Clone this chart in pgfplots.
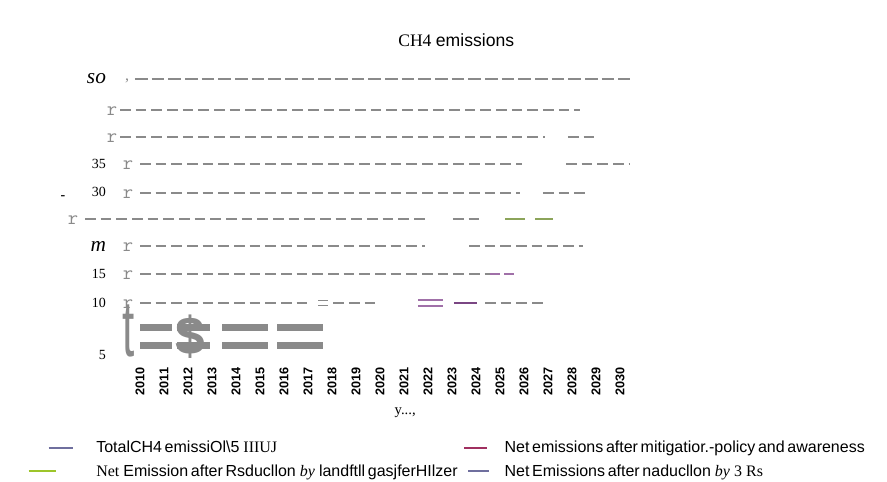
\documentclass[border=0pt]{standalone}
\usepackage{pgfplots}
\pgfplotsset{compat=1.18}
\usepackage{fontspec}
\setmainfont{Liberation Serif}
\setsansfont{Liberation Sans}
\newfontfamily\narrow[WordSpace=0.6]{Liberation Sans}
\definecolor{gridgray}{HTML}{8A8A8A}
\definecolor{slate}{HTML}{6F6F9E}
\definecolor{maroon}{HTML}{A03060}
\definecolor{lgreen}{HTML}{9DC52A}
\definecolor{olive}{HTML}{8CA45A}
\definecolor{lpurple}{HTML}{A070A8}
\definecolor{dpurple}{HTML}{7A4683}
\begin{document}
\begin{tikzpicture}
\path[use as bounding box] (0,0) rectangle (665.25pt,-360.75pt);
\begin{axis}[
  at={(84pt,-269.25pt)}, anchor=south west,
  scale only axis, width=399pt, height=218.4pt,
  xmin=2008.8333, xmax=2031, ymin=0, ymax=52,
  clip=false,
  axis line style={draw=none},
  major tick length=0pt,
  xtick={2010,2011,2012,2013,2014,2015,2016,2017,2018,2019,2020,2021,2022,2023,2024,2025,2026,2027,2028,2029,2030},
  xticklabels={2010,2011,2012,2013,2014,2015,2016,2017,2018,2019,2020,2021,2022,2023,2024,2025,2026,2027,2028,2029,2030},
  xticklabel style={rotate=90, anchor=east, xshift=-3pt, font=\sffamily\bfseries\fontsize{9.5}{10}\selectfont},
  ytick={0.7,10,15.18,20.18,29.64,34.82,50},
  yticklabels={5,10,15,{\fontsize{16}{16}\selectfont\textit{m}},{\raisebox{-2pt}{\textbf{-}}\hspace{20pt}30},35,{\fontsize{16}{16}\selectfont\textit{so}}},
  yticklabel style={anchor=east, xshift=-1pt, font=\fontsize{10.5}{11}\selectfont},
  every axis title shift=0pt,
  title={CH4 \textsf{emissions}},
  title style={at={(axis description cs:0.647,1.0955)}, anchor=center, font=\fontsize{13.2}{14}\selectfont},
  xlabel={y...,},
  xlabel style={at={(axis description cs:0.551,-0.183)}, anchor=center, font=\fontsize{11}{12}\selectfont},
  legend columns=2,
  legend cell align=left,
  legend style={at={(axis description cs:-0.1665,-0.262)}, anchor=north west, draw=none, fill=none,
    font=\fontsize{12}{13}\selectfont, row sep=3.5pt,
    /tikz/every even column/.append style={column sep=2pt}},
  gd/.style={color=gridgray, line width=1.1pt, dash pattern=on 8pt off 3.75pt, forget plot},
]
% legend images
\addlegendimage{legend image code/.code={\draw[slate, line width=1.5pt] (4.5pt,0pt) -- (23pt,0pt); \path (38pt,0pt);}}
\addlegendentry{{\narrow TotalCH4 emissiOl\textbackslash 5} {\rmfamily IIIUJ}}
\addlegendimage{legend image code/.code={\draw[maroon, line width=1.5pt] (-14pt,0pt) -- (3pt,0pt); \path (14.25pt,0pt);}}
\addlegendentry{{\narrow Net emissions after mitigatior.-policy and awareness}}
\addlegendimage{legend image code/.code={\draw[lgreen, line width=1.5pt] (-10.5pt,0pt) -- (10pt,0pt); \path (38pt,0pt);}}
\addlegendentry{{\rmfamily Net} {\narrow Emission after Rsducllon} {\rmfamily\textit{by}} {\narrow landftll gasjferHIlzer}}
\addlegendimage{legend image code/.code={\draw[slate, line width=1.5pt] (-11pt,0pt) -- (4.5pt,0pt); \path (14.25pt,0pt);}}
\addlegendentry{{\narrow Net Emissions after naducllon} {\rmfamily\textit{by} 3 Rs}}

% dashed gridline segments
\addplot[gd, line width=1.5pt, dash pattern=on 9.5pt off 3pt] coordinates {(2009.79,50) (2030.42,50)};
\addplot[gd] coordinates {(2009.17,44.46) (2028.33,44.46)};
\addplot[gd] coordinates {(2009.17,39.64) (2026.875,39.64)};
\addplot[gd] coordinates {(2027.83,39.64) (2029.08,39.64)};
\addplot[gd] coordinates {(2010,34.82) (2025.92,34.82)};
\addplot[gd] coordinates {(2027.75,34.82) (2030.42,34.82)};
\addplot[gd] coordinates {(2010,29.64) (2025.83,29.64)};
\addplot[gd] coordinates {(2026.79,29.64) (2028.63,29.64)};
\addplot[gd] coordinates {(2007.71,25) (2022.0,25)};
\addplot[gd] coordinates {(2023.04,25) (2024.25,25)};
\addplot[gd] coordinates {(2010,20.18) (2021.875,20.18)};
\addplot[gd] coordinates {(2023.71,20.18) (2028.46,20.18)};
\addplot[gd] coordinates {(2010,15.18) (2024.58,15.18)};
\addplot[gd] coordinates {(2010,10) (2017.15,10)};
\addplot[gd] coordinates {(2018.05,10) (2019.79,10)};
\addplot[gd] coordinates {(2024.375,10) (2026.875,10)};
% small gray equals
\addplot[color=gridgray, line width=0.8pt, forget plot] coordinates {(2017.42,10.4) (2017.85,10.4)};
\addplot[color=gridgray, line width=0.8pt, forget plot] coordinates {(2017.42,9.6) (2017.85,9.6)};
% coloured segments
\addplot[color=olive, line width=1.1pt, forget plot] coordinates {(2025.21,25) (2026.04,25)};
\addplot[color=olive, line width=1.1pt, forget plot] coordinates {(2026.46,25) (2027.21,25)};
\addplot[color=lpurple, line width=1.1pt, forget plot] coordinates {(2024.58,15.18) (2025.0,15.18)};
\addplot[color=lpurple, line width=1.1pt, forget plot] coordinates {(2025.17,15.18) (2025.58,15.18)};
\addplot[color=lpurple, line width=1.1pt, forget plot] coordinates {(2021.58,10.54) (2022.625,10.54)};
\addplot[color=lpurple, line width=1.1pt, forget plot] coordinates {(2021.58,9.46) (2022.625,9.46)};
\addplot[color=dpurple, line width=1.6pt, forget plot] coordinates {(2023.08,10) (2024.04,10)};
% thick gray bars
\addplot[color=gridgray, line width=5.25pt, forget plot] coordinates {(2010,5.71) (2011.33,5.71)};
\addplot[color=gridgray, line width=5.25pt, forget plot] coordinates {(2011.54,5.71) (2012.92,5.71)};
\addplot[color=gridgray, line width=5.25pt, forget plot] coordinates {(2013.42,5.71) (2015.33,5.71)};
\addplot[color=gridgray, line width=5.25pt, forget plot] coordinates {(2015.71,5.71) (2017.625,5.71)};
\addplot[color=gridgray, line width=5.25pt, forget plot] coordinates {(2010,2.5) (2011.33,2.5)};
\addplot[color=gridgray, line width=5.25pt, forget plot] coordinates {(2011.54,2.5) (2012.92,2.5)};
\addplot[color=gridgray, line width=5.25pt, forget plot] coordinates {(2013.42,2.5) (2015.33,2.5)};
\addplot[color=gridgray, line width=5.25pt, forget plot] coordinates {(2015.71,2.5) (2017.625,2.5)};

% gray glyphs at gridline starts
\begin{scope}[every node/.style={text=gridgray, inner sep=0pt, font=\ttfamily\fontsize{15}{15}\selectfont}]
\node at (axis cs:2008.833,44.2) {r};
\node at (axis cs:2008.833,39.4) {r};
\node at (axis cs:2009.5,34.6) {r};
\node at (axis cs:2009.5,29.4) {r};
\node at (axis cs:2007.21,24.8) {r};
\node at (axis cs:2009.5,19.95) {r};
\node at (axis cs:2009.5,14.95) {r};
\node at (axis cs:2009.5,9.8) {r};
\node[font=\fontsize{12}{12}\selectfont] at (axis cs:2009.46,49.6) {,};
\end{scope}
\node[text=gridgray, inner sep=0pt] at (axis cs:2009.54,5.0) {\scalebox{0.55}[1]{\sffamily\fontsize{60}{60}\selectfont t}};
\node[text=gridgray, inner sep=0pt] at (axis cs:2012.08,3.9) {\sffamily\bfseries\fontsize{40}{40}\selectfont \$};
\end{axis}
\end{tikzpicture}
\end{document}
